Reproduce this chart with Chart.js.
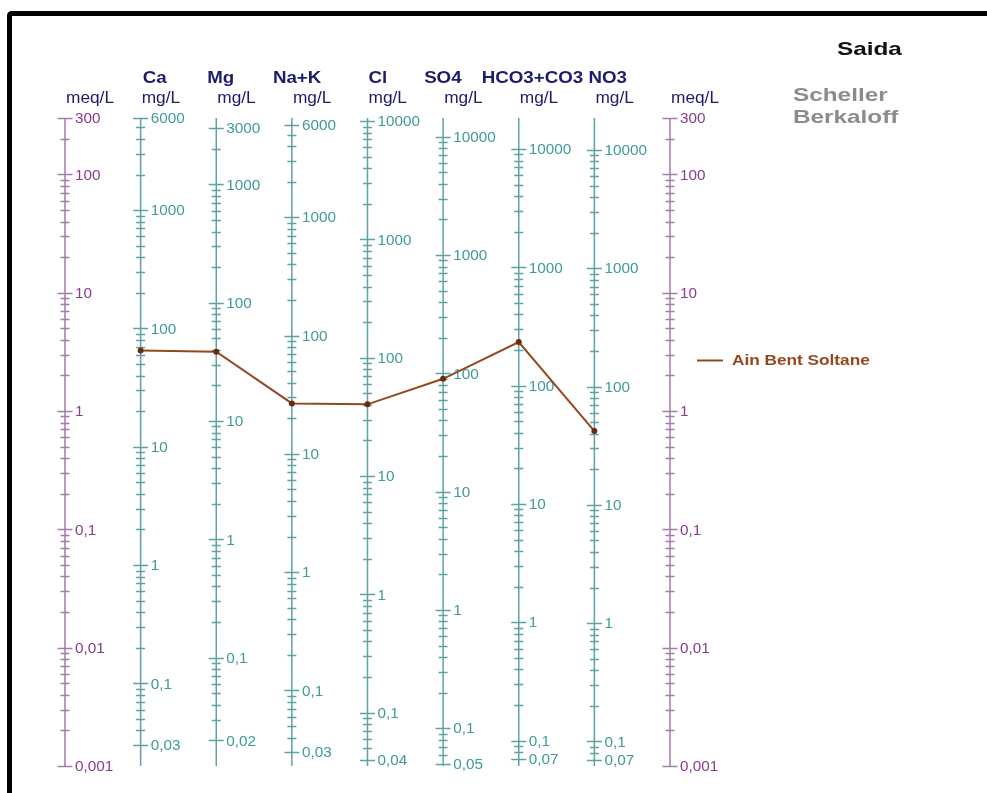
<!DOCTYPE html>
<html>
<head>
<meta charset="utf-8">
<title>Saida - Schoeller Berkaloff</title>
<script src="https://cdn.jsdelivr.net/npm/chart.js@4.4.0/dist/chart.umd.min.js"></script>
<style>
  html, body { margin: 0; padding: 0; background: #fff; overflow: hidden; }
  #frame {
    position: absolute; left: 7px; top: 11px; width: 1000px; height: 800px;
    border-left: 5px solid #000; border-top: 5px solid #000; border-top-left-radius: 5px;
  }
  #wrap { position: absolute; left: 0; top: 0; width: 987px; height: 793px; }
</style>
</head>
<body>
<div id="frame"></div>
<div id="wrap"><canvas id="chart"></canvas></div>
<script>
const stationName = 'Saida';
const diagramTitle = ['Scheller', 'Berkaloff'];
const sampleName = 'Ain Bent Soltane';

const ions = ['Ca', 'Mg', 'Na+K', 'Cl', 'SO4', 'HCO3+CO3', 'NO3'];
// equivalent weights, mg per meq
const eqWeights = [20.04, 12.15, 23.0, 35.45, 48.03, 61.02, 62.0];
// sample concentrations, mg/L
const sampleMgL = [65, 38.6, 26.7, 40.4, 90, 234, 42];

const meqMin = 0.001;
const meqMax = 300;

const TEAL = '#3f9a98';
const TEAL_LINE = '#5ea3a3';
const PURPLE = '#8b3b8f';
const PURPLE_LINE = '#a57aac';
const NAVY = '#1c1c6b';
const BROWN = '#94491c';

// header text left edge relative to its axis
const headerDx = [2, -9, -19, 1, -19, -37, -6];

function fmt(v) {
    const s = String(parseFloat(v.toPrecision(6)));
    return s.replace('.', ',');
}

function drawText(ctx, str, x, y, font, color, sx, baseline) {
    ctx.save();
    ctx.font = font;
    ctx.fillStyle = color;
    ctx.textAlign = 'left';
    ctx.textBaseline = baseline || 'alphabetic';
    ctx.translate(x, y);
    ctx.scale(sx || 1, 1);
    ctx.fillText(str, 0, 0);
    ctx.restore();
}

// ticks at every d*10^k inside [lo, hi]; labelled ones are decades and both ends
function buildTicks(lo, hi) {
    const ticks = [];
    for (let k = Math.floor(Math.log10(lo)); k <= Math.ceil(Math.log10(hi)); k++) {
        for (let d = 1; d <= 9; d++) {
            const v = parseFloat((d * Math.pow(10, k)).toPrecision(6));
            if (v >= lo * 0.999999 && v <= hi * 1.000001) ticks.push({ value: v, major: d === 1 });
        }
    }
    if (ticks.length) {
        ticks[0].major = true;
        ticks[ticks.length - 1].major = true;
    }
    return ticks;
}

function drawAxis(ctx, scale, x, lo, hi, lineColor, labelColor) {
    const yTop = scale.getPixelForValue(hi);
    const yBot = scale.getPixelForValue(lo);
    const ticks = buildTicks(lo, hi);
    ctx.save();
    ctx.strokeStyle = lineColor;
    ctx.lineWidth = 1.5;
    ctx.beginPath();
    ctx.moveTo(x, yTop);
    ctx.lineTo(x, yBot);
    for (const t of ticks) {
        const y = Math.round(scale.getPixelForValue(t.value)) + 0.5;
        const half = t.major ? 7.5 : 4.5;
        ctx.moveTo(x - half, y);
        ctx.lineTo(x + half, y);
    }
    ctx.stroke();
    ctx.restore();
    for (const t of ticks) {
        if (!t.major) continue;
        drawText(ctx, fmt(t.value), x + 10, scale.getPixelForValue(t.value) + 1,
            '15px "Liberation Sans", Arial, sans-serif', labelColor, 1.02, 'middle');
    }
}

const schoellerAxes = {
    id: 'schoellerAxes',
    beforeDatasetsDraw(chart) {
        const ctx = chart.ctx;
        const xs = chart.scales.x;
        const meq = chart.scales.y;
        drawAxis(ctx, meq, xs.getPixelForValue(0), meqMin, meqMax, PURPLE_LINE, PURPLE);
        drawAxis(ctx, meq, xs.getPixelForValue(ions.length + 1), meqMin, meqMax, PURPLE_LINE, PURPLE);
        ions.forEach((ion, i) => {
            const sc = chart.scales['ion' + i];
            drawAxis(ctx, sc, xs.getPixelForValue(i + 1), meqMin * eqWeights[i], meqMax * eqWeights[i], TEAL_LINE, TEAL);
        });
    },
    afterDraw(chart) {
        const ctx = chart.ctx;
        const xs = chart.scales.x;
        const unitFont = '16px "Liberation Sans", Arial, sans-serif';
        const boldFont = 'bold 16px "Liberation Sans", Arial, sans-serif';

        // column headers and units
        drawText(ctx, 'meq/L', xs.getPixelForValue(0) + 1, 103, unitFont, NAVY, 1.08);
        drawText(ctx, 'meq/L', xs.getPixelForValue(ions.length + 1) + 1, 103, unitFont, NAVY, 1.08);
        ions.forEach((ion, i) => {
            const x = xs.getPixelForValue(i + 1);
            drawText(ctx, ion, x + headerDx[i], 83, boldFont, NAVY, 1.17);
            drawText(ctx, 'mg/L', x + 1, 103, unitFont, NAVY, 1.08);
        });

        // titles
        const titleFont = 'bold 19px "Liberation Sans", Arial, sans-serif';
        drawText(ctx, stationName, 837, 55, titleFont, '#111', 1.28);
        drawText(ctx, diagramTitle[0], 793, 101, titleFont, '#8c8c8c', 1.28);
        drawText(ctx, diagramTitle[1], 793, 123, titleFont, '#8c8c8c', 1.28);

        // legend
        ctx.save();
        ctx.strokeStyle = BROWN;
        ctx.lineWidth = 2;
        ctx.beginPath();
        ctx.moveTo(697, 360.5);
        ctx.lineTo(723, 360.5);
        ctx.stroke();
        ctx.restore();
        drawText(ctx, sampleName, 732, 361, 'bold 14px "Liberation Sans", Arial, sans-serif', BROWN, 1.23, 'middle');
    }
};

const ionScales = {};
ions.forEach((ion, i) => {
    ionScales['ion' + i] = {
        axis: 'y',
        type: 'logarithmic',
        min: meqMin * eqWeights[i],
        max: meqMax * eqWeights[i],
        display: false
    };
});

const points = sampleMgL.map((mg, i) => ({ x: i + 1, y: mg / eqWeights[i] }));

new Chart(document.getElementById('chart'), {
    type: 'line',
    data: {
        datasets: [{
            label: sampleName,
            data: points,
            borderColor: BROWN,
            borderWidth: 2,
            pointRadius: 3,
            pointBackgroundColor: '#6a2c0e',
            pointBorderWidth: 0,
            tension: 0
        }]
    },
    options: {
        responsive: true,
        maintainAspectRatio: false,
        animation: false,
        layout: { padding: { left: 65, right: 317, top: 118, bottom: 27 } },
        plugins: { legend: { display: false }, tooltip: { enabled: false } },
        scales: {
            x: { type: 'linear', min: 0, max: ions.length + 1, display: false },
            y: { type: 'logarithmic', min: meqMin, max: meqMax, display: false },
            ...ionScales
        }
    },
    plugins: [schoellerAxes]
});
</script>
</body>
</html>
